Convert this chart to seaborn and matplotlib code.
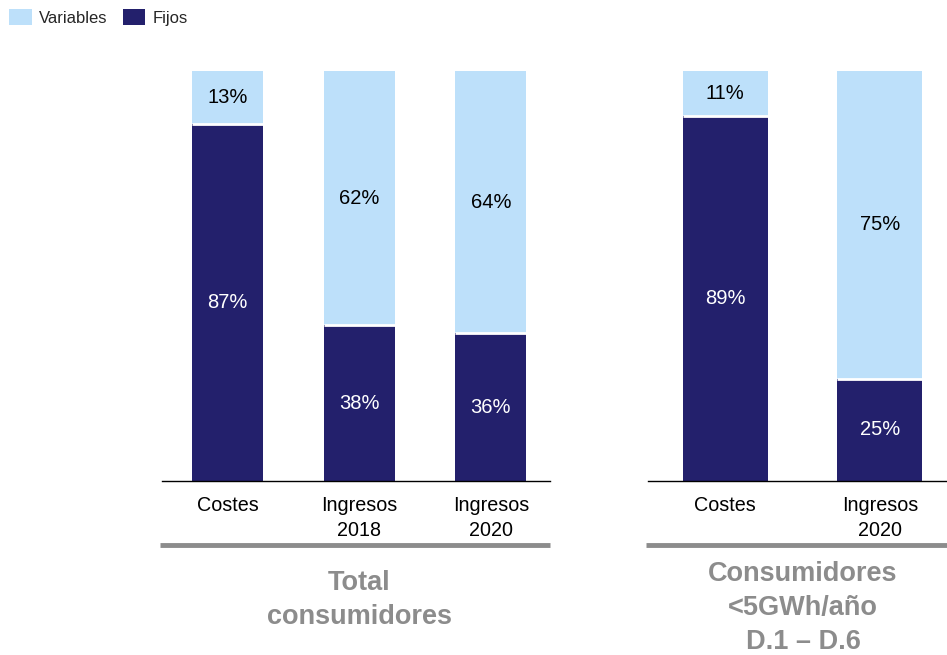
import matplotlib
matplotlib.use("Agg")
import matplotlib.pyplot as plt
from matplotlib.patches import Patch
import seaborn as sns

# Shares of fixed vs. variable components (%)
categories_total = ["Costes", "Ingresos\n2018", "Ingresos\n2020"]
fijos_total = [87, 38, 36]
variables_total = [13, 62, 64]

categories_small = ["Costes", "Ingresos\n2020"]
fijos_small = [89, 25]
variables_small = [11, 75]

group_labels = ["Total\nconsumidores", "Consumidores\n<5GWh/año\nD.1 – D.6"]
legend_labels = ["Variables", "Fijos"]

LIGHT = "#BDE0FA"
NAVY = "#23206C"
GREY = "#8C8C8C"

sns.set_theme(style="white")
plt.rcParams["font.family"] = ["Liberation Sans", "DejaVu Sans"]

W, H = 947, 655
fig = plt.figure(figsize=(W / 100, H / 100), dpi=100)


def px_axes(x0, x1, ybot, ytop):
    return fig.add_axes([x0 / W, (H - ybot) / H, (x1 - x0) / W, (ybot - ytop) / H])


def draw_panel(ax, cats, fijos, variables, width, xlim, group_text, group_x, group_y,
               grey_x0):
    totals = [f + v for f, v in zip(fijos, variables)]
    sns.barplot(x=cats, y=totals, color=LIGHT, saturation=1, width=width,
                errorbar=None, ax=ax, linewidth=0)
    n_before = len(ax.patches)
    sns.barplot(x=cats, y=fijos, color=NAVY, saturation=1, width=width,
                errorbar=None, ax=ax, linewidth=0)
    # thin white divider between the two stacked segments
    for p in ax.patches[n_before:]:
        ax.hlines(p.get_height(), p.get_x(), p.get_x() + p.get_width(),
                  color="white", linewidth=2, zorder=3)
    for i, (f, v) in enumerate(zip(fijos, variables)):
        ax.text(i, f / 2, f"{f}%", ha="center", va="center", color="white",
                fontsize=14.5)
        ax.text(i, f + v / 2, f"{v}%", ha="center", va="center", color="black",
                fontsize=14.5)
    ax.set_xlim(*xlim)
    ax.set_ylim(0, 100)
    ax.set_xlabel("")
    ax.set_ylabel("")
    ax.set_yticks([])
    for s in ["top", "left", "right"]:
        ax.spines[s].set_visible(False)
    ax.spines["bottom"].set_color("black")
    ax.spines["bottom"].set_linewidth(1.0)
    ax.tick_params(axis="x", length=0, pad=11, labelsize=14.2, colors="black")
    for lab in ax.get_xticklabels():
        lab.set_multialignment("center")
        lab.set_linespacing(1.35)
    # grey separator under the category labels
    ax.plot([grey_x0, 1.0], [-0.156, -0.156], transform=ax.transAxes,
            color=GREY, linewidth=3.5, clip_on=False, solid_capstyle="butt")
    fig.text(group_x / W, (H - group_y) / H, group_text, ha="center", va="center",
             fontsize=19.5, fontweight="bold", color=GREY, linespacing=1.38)


ax1 = px_axes(162, 550, 481, 71)
draw_panel(ax1, categories_total, fijos_total, variables_total, 0.54,
           (-0.5, 2.45), group_labels[0], 359, 600, -2 / 388)

ax2 = px_axes(648, 947, 481, 71)
draw_panel(ax2, categories_small, fijos_small, variables_small, 0.55,
           (-0.5, 1.434), group_labels[1], 803, 608, -2 / 299)

handles = [Patch(facecolor=LIGHT, edgecolor="none"),
           Patch(facecolor=NAVY, edgecolor="none")]
fig.legend(handles, legend_labels, loc="upper left", bbox_to_anchor=(0.0, 1.0),
           ncol=2, frameon=False, fontsize=12, handlelength=1.35,
           handleheight=1.1, handletextpad=0.45, columnspacing=0.9,
           borderaxespad=0.3, borderpad=0.25)

fig.savefig("out.png", dpi=100)
